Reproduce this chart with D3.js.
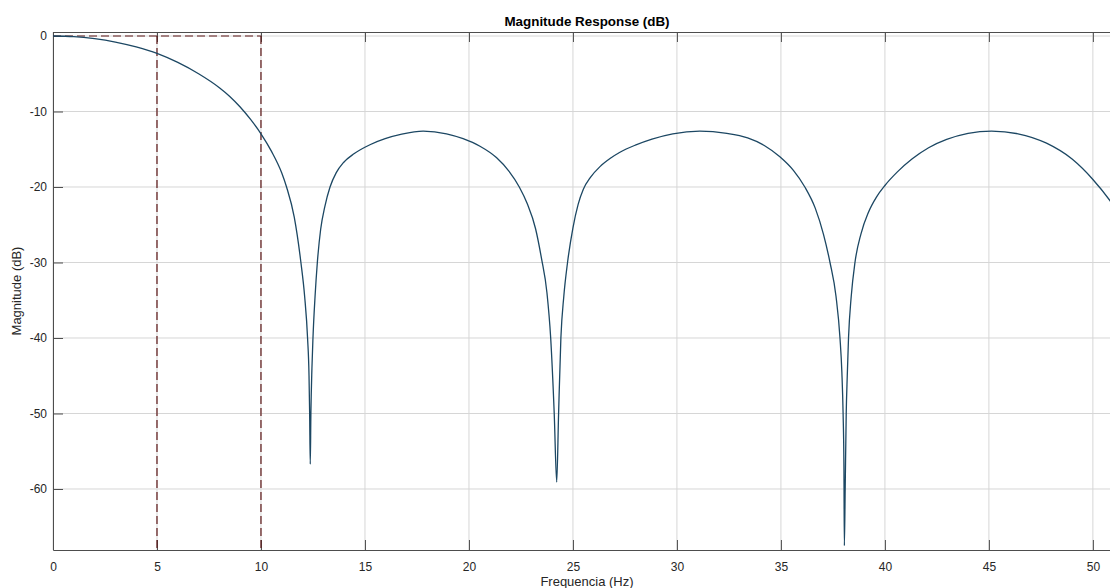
<!DOCTYPE html>
<html>
<head>
<meta charset="utf-8">
<script src="https://cdn.jsdelivr.net/npm/d3@7"></script>
<style>
  body { margin: 0; background: #fff; }
  svg { display: block; overflow: hidden; }
  text { font-family: "Liberation Sans", Arial, sans-serif; }
</style>
</head>
<body>
<div id="chart"></div>
<script>
// frequency (Hz) / magnitude (dB)
let freq = [0, 1, 2, 3, 4, 5, 6, 7, 8, 8.5, 9, 9.5, 10, 10.5, 11, 11.23, 11.6, 11.92, 12.1, 12.24, 12.31, 12.34, 12.37,
            12.40, 12.45, 12.5, 12.6, 12.71, 12.87, 13.07, 13.32, 13.62, 13.97, 14.47, 15.24, 15.97, 16.77, 17.8,
            18.92, 19.72, 20.53, 21.32, 21.92, 22.42, 22.8, 23.2, 23.49, 23.75, 23.93, 24.10, 24.22,
            24.31, 24.42, 24.56, 24.74, 25.0, 25.25, 25.5, 25.85, 26.3, 26.8, 27.26, 28.0, 28.8, 29.8, 31.1,
            32.4, 33.4, 34.2, 34.95, 35.6, 36.15, 36.65, 37.05, 37.36, 37.65, 37.84, 37.93, 37.99, 38.03, 38.05,
            38.09, 38.14, 38.19, 38.25, 38.38, 38.56, 38.85, 39.2, 39.6, 40.0, 40.6, 41.3, 42.1, 42.97, 44.0, 45.13,
            46.4, 47.77, 49.0, 50.0, 50.82, 51.4];
let magDb = [0, -0.08, -0.35, -0.8, -1.45, -2.3, -3.5, -5.0, -6.85, -8.0, -9.4, -11.05, -12.95, -15.25, -18.15, -20, -24, -30, -34.5, -40, -45, -50, -56.7,
             -50, -44, -40, -34.5, -30, -25.6, -22.6, -20, -18.1, -16.75, -15.6, -14.4, -13.6, -13.0, -12.6,
             -12.95, -13.6, -14.6, -16.1, -17.9, -20, -22.2, -25.5, -29.5, -34, -40, -50, -59.1,
             -50, -40, -34.5, -30, -25.4, -22.3, -20.3, -18.7, -17.3, -16.2, -15.4, -14.45, -13.65, -12.95, -12.6,
             -12.9, -13.5, -14.5, -16.0, -17.8, -20, -22.8, -26.3, -30, -34.5, -40, -44.5, -50, -57, -67.5,
             -60, -50, -45, -40, -34.5, -30, -26.2, -23.4, -21.3, -19.8, -18.0, -16.3, -14.8, -13.7, -12.9, -12.6,
             -12.95, -14.2, -16.3, -19.0, -21.8, -24.2];

let xTicks = [0, 5, 10, 15, 20, 25, 30, 35, 40, 45, 50];
let yTicks = [0, -10, -20, -30, -40, -50, -60];

// spec marker lines (passband edge 5 Hz, stopband edge 10 Hz)
let markFreq = [5, 10];
let markDb = 0;

let width = 1110, height = 588;
let margin = {top: 32, right: -12, bottom: 38, left: 53};

let data = freq.map((f, i) => ({f: f, db: magDb[i]}));

let x = d3.scaleLinear()
          .domain([0, 51.4])
          .range([margin.left, width - margin.right]);
let y = d3.scaleLinear()
          .domain([-68.08, 0.53])
          .range([height - margin.bottom, margin.top]);

const svg = d3.select("#chart").append("svg")
              .attr("width", width)
              .attr("height", height);

svg.append("clipPath").attr("id", "clip")
   .append("rect")
   .attr("x", margin.left).attr("y", margin.top)
   .attr("width", width - margin.right - margin.left)
   .attr("height", height - margin.bottom - margin.top);

//grid
svg.append("g")
   .selectAll("line")
   .data(xTicks)
   .join("line")
   .attr("x1", d => x(d)).attr("x2", d => x(d))
   .attr("y1", margin.top).attr("y2", height - margin.bottom)
   .attr("stroke", "#d6d6d6");
svg.append("g")
   .selectAll("line")
   .data(yTicks)
   .join("line")
   .attr("x1", margin.left).attr("x2", width - margin.right)
   .attr("y1", d => y(d)).attr("y2", d => y(d))
   .attr("stroke", "#d6d6d6");

//axes (ticks inside, matlab style)
let axisColor = "#4d4d4d";
let xAxis = g => g
    .attr("transform", `translate(0,${height - margin.bottom})`)
    .call(d3.axisBottom(x).tickValues(xTicks).tickSizeInner(-10).tickSizeOuter(0).tickPadding(12).tickFormat(d => String(d)))
    .call(g => g.select(".domain").attr("stroke", axisColor))
    .call(g => g.selectAll(".tick line").attr("stroke", axisColor))
    .call(g => g.selectAll("text").attr("font-size", 12).attr("fill", "#262626"));
let xTop = g => g
    .attr("transform", `translate(0,${margin.top})`)
    .call(d3.axisTop(x).tickValues(xTicks).tickSizeInner(-10).tickSizeOuter(0).tickFormat(""))
    .call(g => g.select(".domain").attr("stroke", axisColor))
    .call(g => g.selectAll(".tick line").attr("stroke", axisColor));
let yAxis = g => g
    .attr("transform", `translate(${margin.left},0)`)
    .call(d3.axisLeft(y).tickValues(yTicks).tickSizeInner(-10).tickSizeOuter(0).tickPadding(6).tickFormat(d => String(d)))
    .call(g => g.select(".domain").attr("stroke", axisColor))
    .call(g => g.selectAll(".tick line").attr("stroke", axisColor))
    .call(g => g.selectAll("text").attr("font-size", 12).attr("fill", "#262626"));

svg.append("g").call(xAxis);
svg.append("g").call(xTop);
svg.append("g").call(yAxis);

//dashed spec lines
let dash = svg.append("g")
   .attr("clip-path", "url(#clip)")
   .attr("stroke", "#5c1616")
   .attr("stroke-width", 1.2)
   .attr("stroke-dasharray", "8,4")
   .attr("fill", "none");
dash.append("line")
   .attr("x1", x(0)).attr("x2", x(d3.max(markFreq)))
   .attr("y1", y(markDb)).attr("y2", y(markDb));
dash.selectAll("line.v")
   .data(markFreq)
   .join("line")
   .attr("class", "v")
   .attr("x1", d => x(d)).attr("x2", d => x(d))
   .attr("y1", y(markDb)).attr("y2", height - margin.bottom);

//response curve
let line = d3.line()
             .x(d => x(d.f))
             .y(d => y(d.db))
             .curve(d3.curveMonotoneX);
svg.append("path")
   .datum(data)
   .attr("clip-path", "url(#clip)")
   .attr("d", line)
   .attr("fill", "none")
   .attr("stroke", "#1c4763")
   .attr("stroke-width", 1.3);

//labels
svg.append("text")
   .attr("x", 587).attr("y", 26)
   .attr("text-anchor", "middle")
   .attr("font-size", 13.4).attr("font-weight", "bold")
   .attr("fill", "#000")
   .text("Magnitude Response (dB)");
svg.append("text")
   .attr("x", 587).attr("y", 586)
   .attr("text-anchor", "middle")
   .attr("font-size", 13)
   .attr("fill", "#262626")
   .text("Frequencia (Hz)");
svg.append("text")
   .attr("transform", `translate(21,${(margin.top + height - margin.bottom) / 2}) rotate(-90)`)
   .attr("text-anchor", "middle")
   .attr("font-size", 13)
   .attr("fill", "#262626")
   .text("Magnitude (dB)");
</script>
</body>
</html>
